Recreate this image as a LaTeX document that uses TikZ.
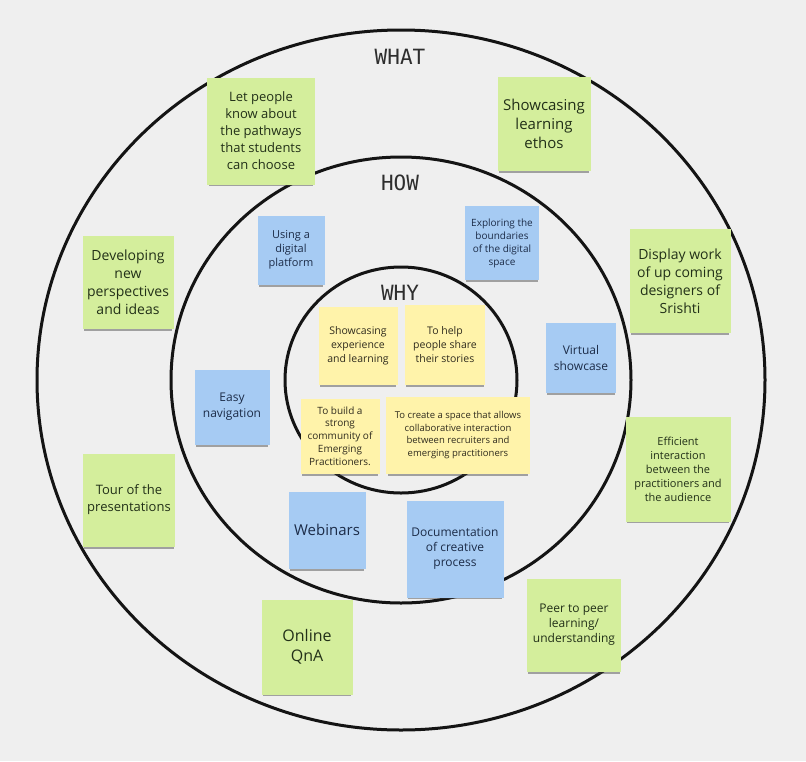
\documentclass[tikz,border=0pt]{standalone}
\usepackage{fontspec}
\setmainfont{Open Sans}
\newfontfamily\ringfont{DejaVu Sans Mono}
\usetikzlibrary{shadows}
\definecolor{paper}{RGB}{239,239,239}
\definecolor{notegreen}{RGB}{212,238,156}
\definecolor{noteblue}{RGB}{166,203,243}
\definecolor{noteyellow}{RGB}{255,243,170}
\definecolor{inkgreen}{RGB}{34,48,24}
\definecolor{inkblue}{RGB}{28,44,72}
\definecolor{inkyellow}{RGB}{48,44,30}
\newcommand{\fsz}[2]{\fontsize{#1}{#2}\selectfont}
\begin{document}
\begin{tikzpicture}[x=1pt,y=-1pt,line join=round,line cap=round,
	ring/.style={line width=3pt,black!92},
	title/.style={font=\ringfont\fontsize{21}{21}\selectfont,text=black!82},
	note/.style={align=center,inner sep=1pt,
		drop shadow={shadow xshift=0pt,shadow yshift=-3.5pt,shadow scale=.97,opacity=.45,fill=black!75}},
	sz/.style 2 args={minimum width=#1pt,minimum height=#2pt},
	gnote/.style={note,fill=notegreen,text=inkgreen},
	bnote/.style={note,fill=noteblue,text=inkblue},
	ynote/.style={note,fill=noteyellow,text=inkyellow}]
	
	\fill[paper] (0,0) rectangle (806,761);
	\useasboundingbox (0,0) rectangle (806,761);
	\coordinate (O) at (401,380);
	% the three rings
	\draw[ring] (O) ellipse [x radius=364, y radius=350];
	\draw[ring] (O) ellipse [x radius=230, y radius=223];
	\draw[ring] (O) ellipse [x radius=116, y radius=113];
	\node[title] (what) at (400,57) {WHAT};
	\node[title] (how) at (400,183) {HOW};
	\node[title] (why) at (400,293) {WHY};
	
	% WHAT (green)
	\node[gnote,sz={108}{107},font=\fsz{13}{17}] (pathways) at (261,131) {Let people\\know about\\the pathways\\that students\\can choose};
	\node[gnote,sz={93}{94},font=\fsz{15}{19}] (ethos) at (544,124) {Showcasing\\learning\\ethos};
	\node[gnote,sz={91}{93},font=\fsz{14}{18}] (perspectives) at (128,282) {Developing\\new\\perspectives\\and ideas};
	\node[gnote,sz={101}{104},font=\fsz{14}{18}] (srishti) at (680,281) {Display work\\of up coming\\designers of\\Srishti};
	\node[gnote,sz={92}{93},font=\fsz{13}{17}] (tour) at (129,500) {Tour of the\\presentations};
	\node[gnote,sz={105}{105},font=\fsz{11}{14}] (audience) at (678,469) {Efficient\\interaction\\between the\\practitioners and\\the audience};
	\node[gnote,sz={91}{95},font=\fsz{16}{20}] (qna) at (307,647) {Online\\QnA};
	\node[gnote,sz={94}{93},font=\fsz{12}{15}] (peer) at (574,625) {Peer to peer\\learning/\\understanding};
	
	% HOW (blue)
	\node[bnote,sz={67}{69},font=\fsz{11}{14}] (platform) at (291,250) {Using a\\digital\\platform};
	\node[bnote,sz={74}{74},font=\fsz{10}{13}] (boundaries) at (502,243) {Exploring the\\boundaries\\of the digital\\space};
	\node[bnote,sz={70}{70},font=\fsz{12}{16}] (virtual) at (581,358) {Virtual\\showcase};
	\node[bnote,sz={75}{75},font=\fsz{12}{16}] (navigation) at (232,407) {Easy\\navigation};
	\node[bnote,sz={77}{77},font=\fsz{15}{18}] (webinars) at (327,530) {Webinars};
	\node[bnote,sz={97}{97},font=\fsz{12}{15}] (documentation) at (455,549) {Documentation\\of creative\\process};
	
	% WHY (yellow)
	\node[ynote,sz={79}{78},font=\fsz{10.5}{14}] (experience) at (358,346) {Showcasing\\experience\\and learning};
	\node[ynote,sz={80}{80},font=\fsz{10.5}{14}] (stories) at (445,345) {To help\\people share\\their stories};
	\node[ynote,sz={79}{75},font=\fsz{10}{12.8}] (community) at (340,436) {To build a\\strong\\community of\\Emerging\\Practitioners.};
	\node[ynote,sz={144}{77},font=\fsz{9.5}{12.5}] (space) at (458,435) {To create a space that allows\\collaborative interaction\\between recruiters and\\emerging practitioners};
\end{tikzpicture}
\end{document}
